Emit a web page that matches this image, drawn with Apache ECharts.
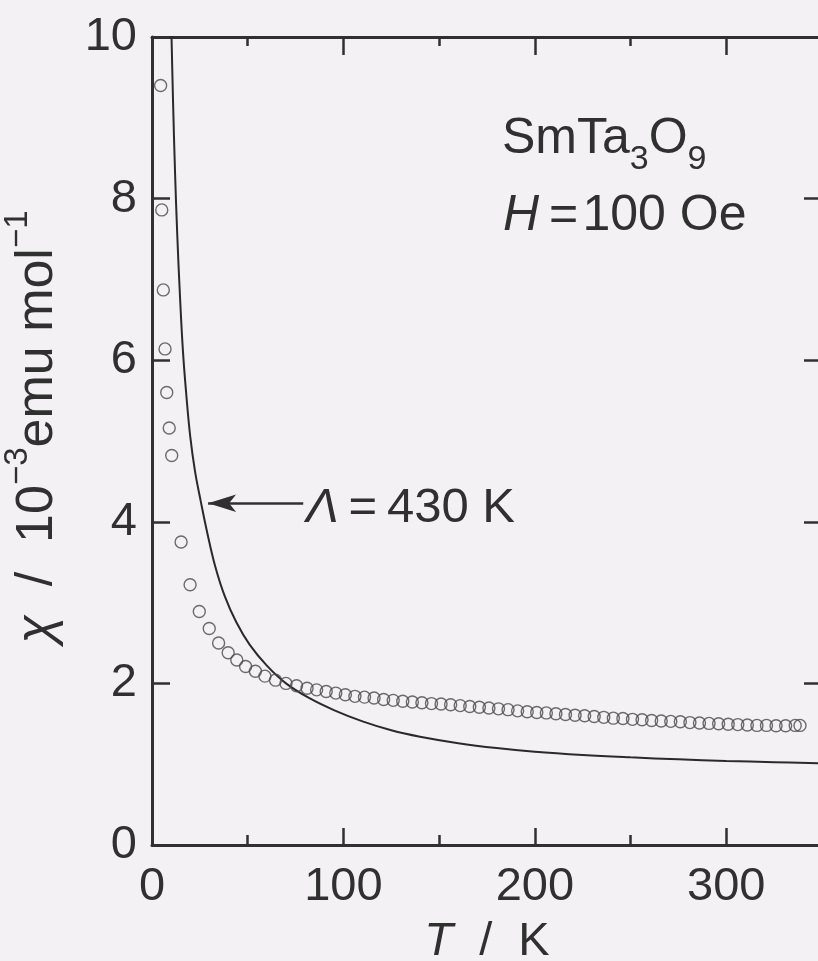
<!DOCTYPE html>
<html>
<head>
<meta charset="utf-8">
<script src="https://cdn.jsdelivr.net/npm/echarts@6/dist/echarts.min.js"></script>
<style>
html,body{margin:0;padding:0;background:#f4f1f4;}
#chart{width:818px;height:961px;}
</style>
</head>
<body>
<div id="chart"></div>
<script>
// ---- data ----
const xTickLabels = [0, 100, 200, 300];
const yTickLabels = [0, 2, 4, 6, 8, 10];

// calculated curve (Λ = 430 K)
const curveT   = [9.5, 10.2, 11.0, 12.0, 13.2, 14.6, 16.2, 18.0, 20.0, 22.5, 25.5, 29.0, 33.0, 38.0, 44.0, 51.0, 60.0, 70.0, 82.0, 95, 110, 125, 140, 160, 180, 200, 225, 250, 275, 300, 325, 350];
const curveChi = [10.75, 10.0, 9.2, 8.35, 7.55, 6.8, 6.1, 5.55, 5.05, 4.62, 4.25, 3.85, 3.45, 3.08, 2.76, 2.48, 2.22, 2.00, 1.82, 1.67, 1.53, 1.42, 1.34, 1.26, 1.20, 1.155, 1.115, 1.085, 1.06, 1.04, 1.025, 1.01];

// measured points (open circles)
const dataT   = [4.5, 5.1, 5.9, 6.8, 7.7, 9.0, 10.3, 15.2, 19.9, 24.7, 29.9, 34.8, 39.8, 44.3, 48.9, 54.0, 59.0, 64.5, 70.0, 75.5, 81.0,
                 86, 91, 96, 101, 106, 111, 116, 121, 126, 131, 136, 141, 146, 151, 156, 161, 166, 171, 176, 181, 186, 191, 196, 201,
                 206, 211, 216, 221, 226, 231, 236, 241, 246, 251, 256, 261, 266, 271, 276, 281, 286, 291, 296, 301, 306, 311, 316,
                 321, 326, 331, 336, 338.5];
const dataChi = [9.40, 7.86, 6.87, 6.14, 5.60, 5.16, 4.82, 3.75, 3.22, 2.89, 2.68, 2.50, 2.38, 2.29, 2.21, 2.15, 2.09, 2.04, 2.00, 1.97, 1.94,
                 1.92, 1.90, 1.88, 1.86, 1.84, 1.83, 1.82, 1.80, 1.79, 1.78, 1.77, 1.76, 1.75, 1.745, 1.735, 1.725, 1.715, 1.705, 1.695, 1.685, 1.675, 1.66, 1.65, 1.64,
                 1.635, 1.625, 1.615, 1.605, 1.60, 1.59, 1.58, 1.57, 1.565, 1.555, 1.55, 1.54, 1.535, 1.53, 1.525, 1.515, 1.51, 1.505, 1.50, 1.495, 1.49, 1.485, 1.48,
                 1.48, 1.475, 1.475, 1.48, 1.48];

// arrow annotation (Λ = 430 K) in data coordinates
const arrowFrom = [79, 4.23];
const arrowTo   = [29.3, 4.23];

const FONT = '"Liberation Sans", Arial, Helvetica, sans-serif';
const INK = '#303030';
const FS = 47;
const FA = 50;
const FY = 52;

const curve = curveT.map((t, i) => [t, curveChi[i]]);
const points = dataT.map((t, i) => [t, dataChi[i]]);

function xAxisCfg(pos, interval, len, showLine, extra) {
  return Object.assign({
    type: 'value', position: pos, min: 0, max: 350, interval: interval,
    axisLine: { show: showLine, onZero: false, lineStyle: { color: INK, width: 3 } },
    axisTick: { show: true, inside: true, length: len, lineStyle: { color: INK, width: 2.5 } },
    axisLabel: { show: false },
    splitLine: { show: false }
  }, extra || {});
}

const chart = echarts.init(document.getElementById('chart'), null, { renderer: 'canvas' });
chart.setOption({
  backgroundColor: '#f4f1f4',
  animation: false,
  grid: { left: 152, right: -4, top: 37, bottom: 116, containLabel: false, outerBoundsMode: 'none' },
  xAxis: [
    xAxisCfg('bottom', 50, 10, true, {
      axisLabel: {
        show: true, fontSize: FS, fontFamily: FONT, color: INK, margin: 19,
        formatter: v => (xTickLabels.indexOf(v) >= 0 ? String(v) : '')
      },
      name: '{i|T}  /  K',
      nameLocation: 'middle',
      nameGap: 72,
      nameTextStyle: {
        fontSize: FS, fontFamily: FONT, color: INK, lineHeight: 50,
        rich: { i: { fontStyle: 'italic', fontSize: FS, fontFamily: FONT, color: INK, lineHeight: 50 } }
      }
    }),
    xAxisCfg('bottom', 100, 17, false),
    xAxisCfg('top', 50, 9, true),
    xAxisCfg('top', 100, 18, false)
  ],
  yAxis: [
    {
      type: 'value', position: 'left', min: 0, max: 10, interval: 2,
      axisLine: { show: true, onZero: false, lineStyle: { color: INK, width: 3 } },
      axisTick: { show: true, inside: true, length: 18, lineStyle: { color: INK, width: 2.5 } },
      axisLabel: {
        show: true, fontSize: FS, fontFamily: FONT, color: INK, margin: 15,
        formatter: v => (yTickLabels.indexOf(v) >= 0 ? String(v) : '')
      },
      splitLine: { show: false },
      name: '{i|χ}  /  10{sup|−3}emu mol{sup|−1}',
      nameLocation: 'middle',
      nameGap: 76,
      nameTextStyle: {
        fontSize: FY, fontFamily: FONT, color: INK, lineHeight: 72,
        padding: [0, 0, 0, 28],
        rich: {
          i: { fontStyle: 'italic', fontSize: FY, fontFamily: FONT, color: INK, lineHeight: 72 },
          sup: { fontSize: 33, fontFamily: FONT, color: INK, lineHeight: 34, verticalAlign: 'top' }
        }
      }
    },
    {
      type: 'value', position: 'right', min: 0, max: 10, interval: 2,
      axisLine: { show: true, onZero: false, lineStyle: { color: INK, width: 3 } },
      axisTick: { show: true, inside: true, length: 18, lineStyle: { color: INK, width: 2.5 } },
      axisLabel: { show: false },
      splitLine: { show: false }
    }
  ],
  graphic: [
    {
      type: 'text', left: 502, top: 114, silent: true,
      style: {
        text: '{n|SmTa}{s|3}{n|O}{s|9}',
        font: FA + 'px ' + FONT, fill: INK,
        rich: {
          n: { fontSize: FA, fontFamily: FONT, fill: INK, lineHeight: 76 },
          s: { fontSize: 34, fontFamily: FONT, fill: INK, lineHeight: 32, verticalAlign: 'bottom' }
        }
      }
    },
    {
      type: 'text', left: 503, top: 191, silent: true,
      style: {
        text: '{i|H}{n|\u2009=\u200a100 Oe}',
        font: FA + 'px ' + FONT, fill: INK,
        rich: {
          i: { fontStyle: 'italic', fontSize: FA, fontFamily: FONT, fill: INK, lineHeight: 76 },
          n: { fontSize: FA, fontFamily: FONT, fill: INK, lineHeight: 76 }
        }
      }
    },
    {
      type: 'text', left: 306, top: 484, silent: true,
      style: {
        text: '{i|Λ}{n|\u2009=\u2009430 K}',
        font: '49px ' + FONT, fill: INK,
        rich: {
          i: { fontStyle: 'italic', fontSize: 49, fontFamily: FONT, fill: INK, lineHeight: 76 },
          n: { fontSize: 49, fontFamily: FONT, fill: INK, lineHeight: 76 }
        }
      }
    }
  ],
  series: [
    {
      type: 'line', xAxisIndex: 0, yAxisIndex: 0,
      data: curve, showSymbol: false, smooth: 0.4,
      clip: true,
      lineStyle: { color: '#2a2a2a', width: 2 },
      markLine: {
        silent: true, animation: false,
        symbol: ['none', 'arrow'],
        lineStyle: { color: INK, width: 2.5, type: 'solid' },
        label: { show: false },
        data: [[
          { coord: arrowFrom, symbol: 'none' },
          { coord: arrowTo, symbol: 'arrow', symbolSize: [13, 28] }
        ]]
      },
      z: 3
    },
    {
      type: 'scatter', xAxisIndex: 0, yAxisIndex: 0,
      data: points, symbol: 'circle', symbolSize: 12,
      itemStyle: { color: 'rgba(0,0,0,0)', borderColor: '#4a4a4a', borderWidth: 1.4 },
      z: 4
    }
  ]
});
</script>
</body>
</html>
